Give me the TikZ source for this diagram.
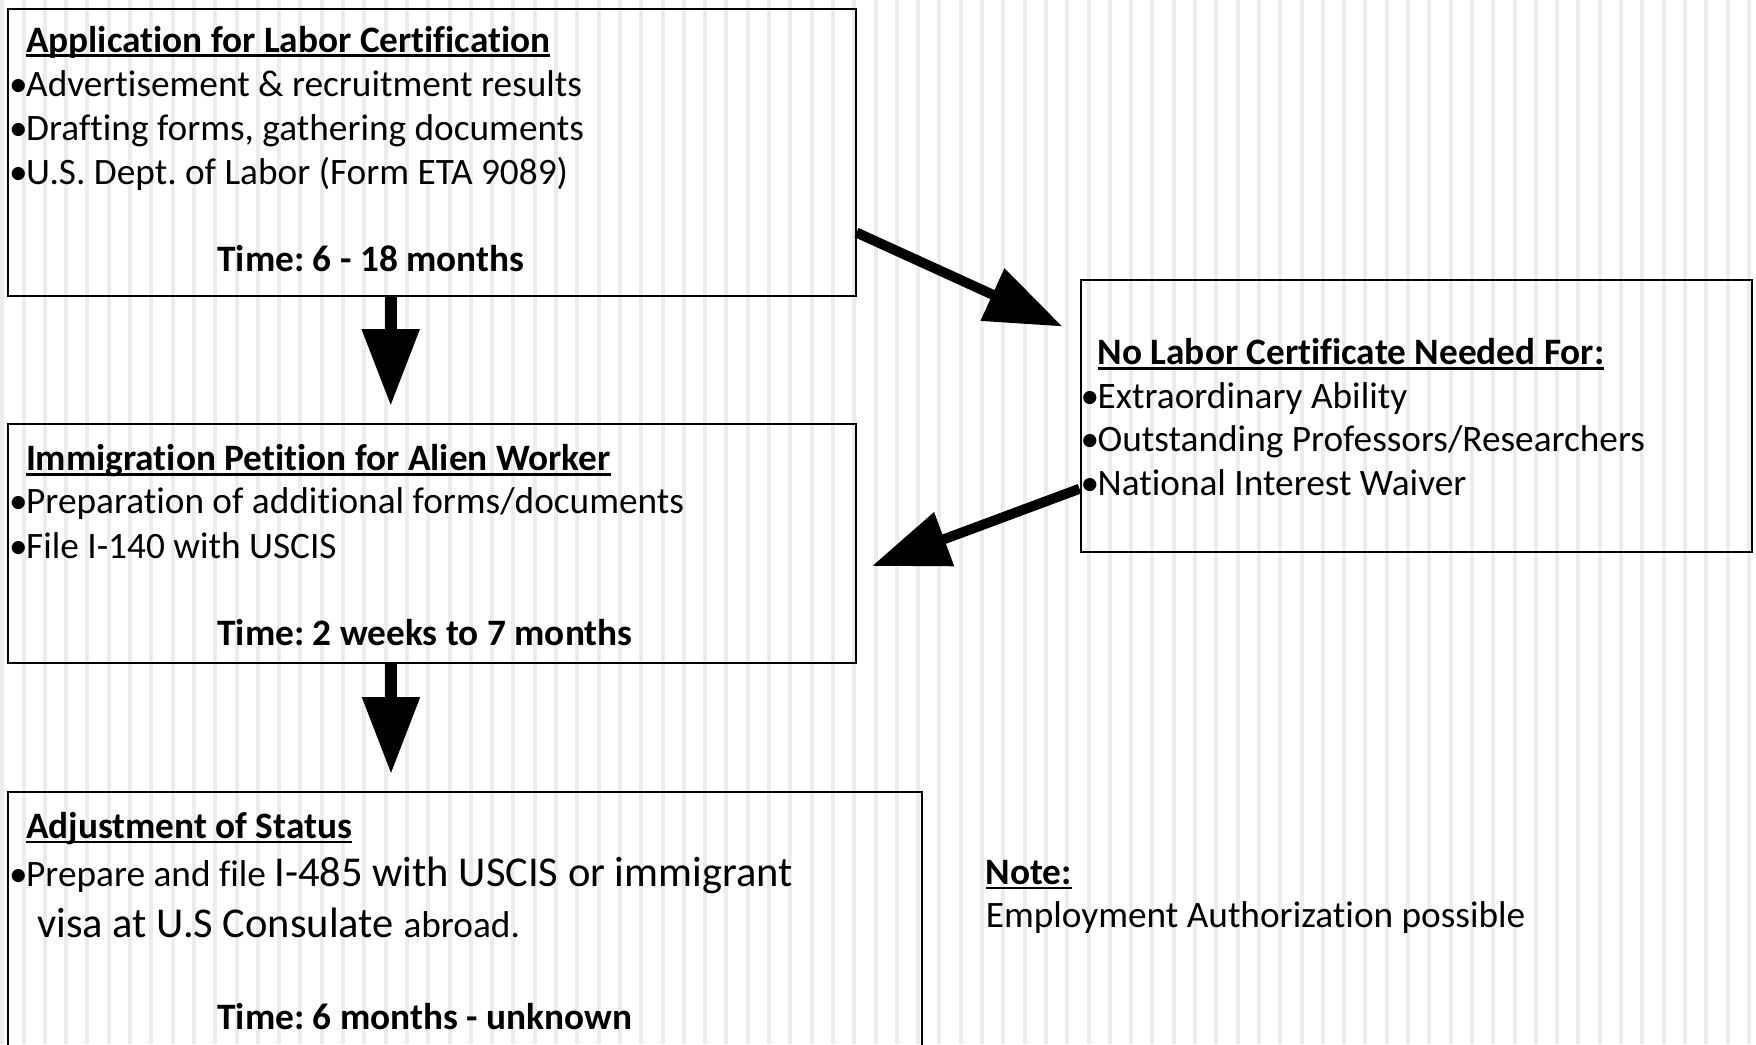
\documentclass[tikz,border=0pt]{standalone}
\usepackage{fontspec}
\setmainfont{Carlito}[Ligatures=NoCommon]
\usetikzlibrary{arrows.meta,calc}
\frenchspacing
\newcommand\myul[1]{\setbox0\hbox{#1}\rlap{\rule[-0.14em]{\wd0}{0.075em}}\box0}
\newcommand\bul{\makebox[17pt][l]{•}}
\definecolor{stripecol}{RGB}{236,236,236}
\tikzset{
  box/.style={draw=black, line width=2pt, rectangle, anchor=north west, inner sep=0pt},
  txt/.style={anchor=base west, inner sep=0pt, font=\fontsize{37.3}{44}\selectfont, yshift=-1.6pt},
  btxt/.style={txt, font=\fontsize{37.3}{44}\selectfont\bfseries},
  bigarrow/.style={-{Triangle[length=77pt,width=55pt]}, black},
}
\begin{document}
\begin{tikzpicture}[x=1pt,y=-1pt]
\clip (0,0) rectangle (1756,1044);
\fill[white] (0,0) rectangle (1756,1044);
\foreach \i in {0,...,82} \fill[stripecol] ({0.2+21.3*\i},0) rectangle +(4,1044);
% boxes
\node[box, minimum width=848pt, minimum height=287pt] (lab) at (6.5,8) {};
\node[box, minimum width=671.5pt, minimum height=271.5pt] (nl) at (1079.5,279) {};
\node[box, minimum width=848pt, minimum height=239pt] (imm) at (6.5,423) {};
\node[box, minimum width=914pt, minimum height=320pt] (adj) at (6.5,791) {};
% box 1 text
\node[btxt] (labt) at (25.8,50.4) {\myul{Application for Labor Certification}};
\node[txt] (lab1) at (9,95.2) {\bul Advertisement \& recruitment results};
\node[txt] (lab2) at (9,138.9) {\bul Drafting forms, gathering documents};
\node[txt] (lab3) at (9,182.6) {\bul U.S. Dept. of Labor (Form ETA 9089)};
\node[btxt] (labtime) at (217.3,270) {Time: 6 - 18 months};
% no labor box text
\node[btxt] (nlt) at (1097.5,362.9) {\myul{No Labor Certificate Needed For:}};
\node[txt] (nl1) at (1080.5,406.6) {\bul Extraordinary Ability};
\node[txt] (nl2) at (1080.5,450.2) {\bul Outstanding Professors/Researchers};
\node[txt] (nl3) at (1080.5,493.9) {\bul National Interest Waiver};
% immigration box text
\node[btxt] (immt) at (25.8,469.3) {\myul{Immigration Petition for Alien Worker}};
\node[txt] (imm1) at (9,511.8) {\bul Preparation of additional forms/documents};
\node[txt] (imm2) at (9,556.6) {\bul File I-140 with USCIS};
\node[btxt] (immtime) at (217.3,644) {Time: 2 weeks to 7 months};
% adjustment box text
\node[btxt] (adjt) at (25.8,836.6) {\myul{Adjustment of Status}};
\node[txt] (adj1) at (9,884.8) {\bul Prepare and file {\fontsize{42.5}{50}\selectfont I-485 with USCIS or immigrant}};
\node[txt] (adj2) at (37,936.3) {{\fontsize{42.5}{50}\selectfont visa at U.S Consulate }abroad.};
\node[btxt] (adjtime) at (217.3,1028) {Time: 6 months - unknown};
% note
\node[btxt] (notet) at (985.6,882.6) {\myul{Note:}};
\node[txt] (note1) at (985.6,926.2) {Employment Authorization possible};
% arrows
\coordinate (tipA) at (390.7,406);
\coordinate (tipB) at (391,774);
\coordinate (tipC) at (1062.5,326.5);
\coordinate (tipD) at (872,566);
\draw[bigarrow, line width=12pt] (lab.south -| tipA) -- (tipA);
\draw[bigarrow, line width=12pt] (imm.south -| tipB) -- (tipB);
\draw[bigarrow, line width=10pt] ($(lab.north east)!0.777!(lab.south east)$) -- (tipC);
\draw[bigarrow, line width=10pt] ($(nl.north west)!0.767!(nl.south west)$) -- (tipD);
\end{tikzpicture}
\end{document}
